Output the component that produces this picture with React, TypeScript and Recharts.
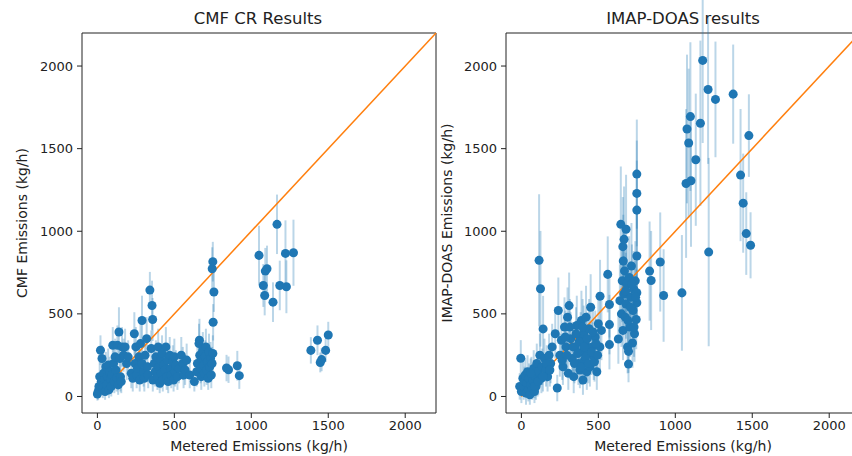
import { ScatterChart, Scatter, XAxis, YAxis, ZAxis, ErrorBar, ReferenceLine, ReferenceArea } from 'recharts';

// CMF CR results: metered rate, estimated rate, 1-sigma error (kg/h)
const cmfMetered = [
  0, 5, 10, 15, 20, 25, 30, 35, 40, 45, 50, 55, 60, 65, 70, 75, 80, 85, 90, 95,
  100, 105, 110, 115, 120, 125, 130, 135, 140, 145, 150, 155, 160, 170, 180, 190, 200,
  220, 230, 240, 245, 250, 255, 260, 270, 275, 280, 290, 290, 300, 305, 310, 320, 325, 330,
  341, 350, 355, 359, 360, 370, 375, 380, 390, 395, 400, 405, 410, 415, 420, 425, 430,
  440, 445, 450, 455, 460, 470, 475, 480, 490, 495, 500, 505, 510, 520, 530, 545, 555, 560, 570, 580, 600,
  630, 645, 650, 660, 663, 665, 670, 675, 680, 685, 690, 695, 700, 705, 710, 715, 720, 725, 730, 735, 740, 745, 750,
  746, 750, 757, 752,
  839, 852, 909, 922,
  1050, 1078, 1087, 1091, 1102, 1141, 1167, 1185, 1222, 1228, 1274,
  1387, 1430, 1448, 1457, 1483, 1500,
];
const cmfEstimate = [
  15, 30, 60, 120, 280, 90, 230, 50, 140, 100, 30, 180, 70, 120, 190, 40, 150, 100, 60, 130,
  310, 200, 90, 240, 160, 110, 310, 70, 390, 230, 120, 90, 300, 250, 300, 200, 240,
  140, 110, 380, 200, 300, 130, 170, 240, 100, 320, 460, 200, 150, 110, 250, 350, 180, 130,
  644, 290, 551, 466, 100, 200, 150, 240, 120, 300, 180, 80, 220, 140, 260, 100, 190,
  160, 300, 120, 220, 90, 250, 170, 130, 210, 100, 240, 150, 190, 120, 170, 250, 200, 130, 160, 220, 130,
  90, 150, 200, 320, 340, 250, 170, 120, 220, 280, 190, 140, 240, 300, 160, 210, 110, 270, 180, 230, 130, 200, 260,
  773, 816, 632, 449,
  172, 162, 186, 126,
  854, 672, 611, 759, 773, 571, 1042, 672, 866, 664, 870,
  279, 340, 206, 223, 279, 372,
];
const cmfError = [
  40, 50, 60, 90, 90, 70, 80, 60, 80, 70, 50, 90, 60, 80, 100, 50, 90, 70, 60, 90,
  110, 100, 70, 110, 90, 80, 120, 60, 150, 100, 90, 70, 120, 100, 110, 100, 100,
  90, 80, 130, 100, 120, 80, 90, 100, 70, 120, 150, 100, 90, 80, 110, 130, 90, 80,
  110, 110, 150, 130, 70, 100, 90, 100, 80, 110, 90, 60, 100, 90, 110, 70, 90,
  90, 120, 80, 100, 70, 110, 90, 80, 100, 70, 110, 90, 90, 80, 90, 110, 100, 80, 90, 100, 80,
  60, 90, 100, 120, 130, 110, 90, 80, 100, 110, 90, 80, 100, 110, 90, 100, 70, 110, 90, 100, 80, 100, 110,
  130, 120, 120, 110,
  80, 80, 90, 80,
  180, 130, 120, 140, 140, 120, 180, 150, 200, 160, 200,
  80, 90, 60, 70, 70, 80,
];

// IMAP-DOAS results
const imapMetered = [
  -4, -11, 0, 10, 15, 20, 25, 30, 35, 40, 45, 50, 55, 60, 65, 70, 75, 80, 85, 90,
  95, 100, 105, 110, 115, 120, 124, 130, 135, 141, 150, 160, 170, 180, 190, 200,
  220, 233, 240, 250, 260, 270, 280, 290, 300, 305, 310, 320, 330, 340, 350, 360, 370, 380,
  385, 390, 395, 400, 405, 410, 415, 420, 425, 430, 440, 445, 450, 460, 470, 480, 490, 500, 510, 511, 520,
  265, 285, 295, 315, 335, 345, 355, 365, 375, 390, 398, 408, 418, 428, 435, 455, 465, 475, 485, 495,
  60, 85, 110, 140, 165, 185,
  561, 572, 572, 572, 630, 640, 646, 650, 655, 659, 660, 665, 667, 670, 675, 680, 680, 685, 690,
  696, 696, 700, 705, 710, 715, 722, 725, 730, 735, 740, 746, 750, 750, 750, 750, 750, 750,
  662, 678, 692, 708, 718, 732, 742,
  833, 843, 902, 924, 1043,
  1070, 1076, 1087, 1098, 1102, 1133, 1163, 1178, 1213, 1217, 1261, 1376,
  1424, 1441, 1461, 1478, 1489,
];
const imapEstimate = [
  231, 61, 30, 110, 60, 90, 130, 20, 80, 150, 40, 110, 10, 70, 140, 50, 100, 170, 30, 120,
  60, 200, 90, 150, 824, 250, 652, 110, 180, 409, 230, 160, 120, 250, 200, 300,
  380, 51, 520, 250, 340, 180, 420, 300, 480, 140, 550, 350, 230, 120, 300, 430, 200, 160,
  350, 460, 270, 100, 380, 220, 320, 480, 150, 260, 410, 180, 540, 300, 240, 360, 150, 440, 300, 607, 400,
  220, 360, 250, 420, 300, 200, 380, 260, 330, 180, 420, 300, 240, 350, 200, 270, 390, 210, 320, 250,
  140, 60, 90, 120, 200, 160,
  739, 557, 435, 314, 348, 580, 1042, 500, 700, 907, 400, 620, 951, 760, 480, 1012, 560, 680, 300,
  273, 196, 720, 420, 600, 790, 324, 520, 650, 380, 700, 466, 567, 628, 850, 1128, 1229, 1346,
  820, 640, 460, 540, 680, 420, 600,
  759, 702, 814, 611, 627,
  1289, 1619, 1534, 1694, 1306, 1433, 1654, 2034, 1858, 874, 1798, 1830,
  1340, 1170, 986, 1579, 915,
];
const imapError = [
  110, 80, 70, 100, 80, 90, 100, 70, 80, 100, 70, 90, 60, 80, 100, 70, 90, 110, 70, 100,
  80, 120, 90, 100, 400, 130, 350, 90, 110, 200, 120, 100, 90, 130, 120, 140,
  150, 80, 200, 130, 160, 110, 180, 150, 180, 100, 200, 160, 130, 100, 150, 180, 130, 110,
  160, 180, 140, 90, 170, 130, 150, 190, 110, 140, 180, 120, 200, 150, 140, 160, 110, 190, 150, 220, 180,
  120, 160, 130, 170, 150, 120, 160, 130, 150, 110, 170, 150, 130, 160, 120, 140, 170, 120, 150, 130,
  90, 70, 80, 90, 110, 100,
  230, 200, 180, 150, 150, 220, 350, 200, 250, 300, 180, 230, 320, 260, 200, 330, 210, 240, 160,
  130, 110, 250, 180, 220, 260, 150, 200, 230, 170, 240, 180, 200, 220, 280, 300, 320, 330,
  280, 230, 190, 210, 240, 180, 220,
  300, 300, 300, 280, 350,
  450, 450, 450, 450, 400, 400, 500, 500, 450, 570, 350, 300,
  400, 300, 250, 250, 200,
];

const TICKS = [0, 500, 1000, 1500, 2000];
const DOMAIN: [number, number] = [-100, 2200];
const FONT = 'DejaVu Sans, sans-serif';
const BLUE = '#1f77b4';
const ORANGE = '#ff7f0e';

function toRows(xs: number[], ys: number[], errs: number[]) {
  return xs.map((x, i) => ({ x, y: ys[i], err: errs[i] }));
}

interface PanelProps {
  left: number;
  width: number;
  title: string;
  titleCenter: number;
  yLabel: string;
  yLabelOffset: number;
  data: { x: number; y: number; err: number }[];
}

function Panel({ left, width, title, titleCenter, yLabel, yLabelOffset, data }: PanelProps) {
  const tickStyle = { fontSize: 13, fill: '#222', fontFamily: FONT };
  const labelStyle = { fontSize: 14, fill: '#222', fontFamily: FONT };
  return (
    <>
      <div
        style={{
          position: 'absolute',
          top: 11,
          left: titleCenter - 150,
          width: 300,
          textAlign: 'center',
          fontFamily: FONT,
          fontSize: 16.5,
          lineHeight: '16px',
          color: '#222',
        }}
      >
        {title}
      </div>
      <div style={{ position: 'absolute', top: 0, left }}>
        <ScatterChart width={width} height={456} margin={{ top: 33, right: 4, bottom: 0, left: 0 }}>
          <XAxis
            type="number"
            dataKey="x"
            domain={DOMAIN}
            ticks={TICKS}
            allowDataOverflow
            height={43}
            axisLine={false}
            tickSize={5}
            tickMargin={3}
            tickLine={{ stroke: '#222' }}
            tick={tickStyle}
            label={{ value: 'Metered Emissions (kg/h)', position: 'insideBottom', offset: 5, style: labelStyle }}
          />
          <YAxis
            type="number"
            dataKey="y"
            domain={DOMAIN}
            ticks={TICKS}
            allowDataOverflow
            width={82}
            axisLine={false}
            tickSize={5}
            tickMargin={4}
            tickLine={{ stroke: '#222' }}
            tick={tickStyle}
            label={{ value: yLabel, angle: -90, position: 'insideLeft', offset: yLabelOffset, style: { ...labelStyle, textAnchor: 'middle' } }}
          />
          <ZAxis range={[85, 85]} />
          <ReferenceArea x1={-100} x2={2200} y1={-100} y2={2200} fill="none" stroke="#222" strokeWidth={1} />
          <Scatter data={data} fill={BLUE} isAnimationActive={false}>
            <ErrorBar dataKey="err" direction="y" width={0} stroke={BLUE} strokeOpacity={0.3} strokeWidth={2} />
          </Scatter>
          <ReferenceLine segment={[{ x: 0, y: 0 }, { x: 2200, y: 2200 }]} stroke={ORANGE} strokeWidth={1.5} />
        </ScatterChart>
      </div>
    </>
  );
}

export default function App() {
  return (
    <div style={{ position: 'absolute', top: 0, left: 0, width: 852, height: 456, overflow: 'hidden', background: '#fff' }}>
      <Panel
        left={0}
        width={440}
        title="CMF CR Results"
        titleCenter={258}
        yLabel="CMF Emissions (kg/h)"
        yLabelOffset={22}
        data={toRows(cmfMetered, cmfEstimate, cmfError)}
      />
      <Panel
        left={424}
        width={440}
        title="IMAP-DOAS results"
        titleCenter={683}
        yLabel="IMAP-DOAS Emissions (kg/h)"
        yLabelOffset={23}
        data={toRows(imapMetered, imapEstimate, imapError)}
      />
    </div>
  );
}
